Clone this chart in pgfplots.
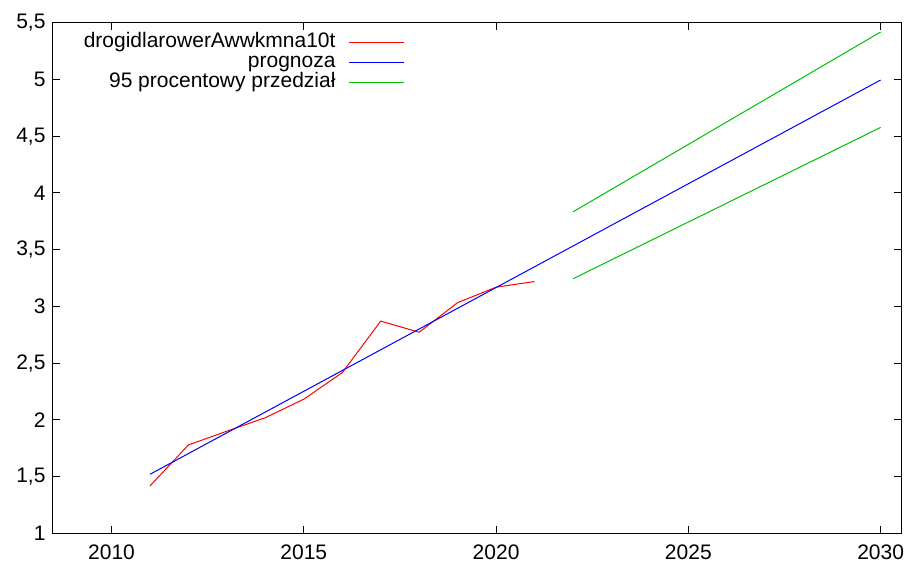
\documentclass[border=0pt]{standalone}
\usepackage{fontspec}
\setmainfont{Liberation Sans}
\usepackage{pgfplots}
\pgfplotsset{compat=1.18}
\definecolor{gpred}{RGB}{255,0,0}
\definecolor{gpblue}{RGB}{0,0,255}
\definecolor{gpgreen}{RGB}{0,192,0}
\begin{document}
\begin{tikzpicture}
\path[use as bounding box] (-52.7pt,-30.7pt) rectangle (856.3pt,533.3pt);
\begin{axis}[
  scale only axis,
  width=848.3pt, height=510.6pt,
  xmin=2008.47, xmax=2030.53,
  ymin=1, ymax=5.5,
  xtick={2010,2015,2020,2025,2030},
  ytick={1,1.5,2,2.5,3,3.5,4,4.5,5,5.5},
  tick align=inside,
  major tick length=7pt,
  tick style={black, line width=0.9pt},
  axis line style={black, line width=1pt},
  /pgf/number format/assume math mode=true,
  ticklabel style={font=\fontsize{21}{25}\selectfont},
  xticklabel style={/pgf/number format/1000 sep={}, yshift=-8pt},
  yticklabel style={/pgf/number format/fixed, /pgf/number format/use comma, /pgf/number format/precision=1, /pgf/number format/1000 sep={}, xshift=-3.7pt},
  legend style={draw=none, fill=none, at={(0.415,0.982)}, anchor=north east,
    inner sep=0pt, row sep=0pt, column sep=13pt,
    nodes={inner sep=0pt, text height=15pt, text depth=5pt},
    font=\fontsize{21}{25}\selectfont},
  legend cell align=right,
  legend plot pos=right,
  legend image code/.code={\draw[#1] (0pt,0pt) -- (55pt,0pt);},
]
\addplot[gpred, line width=1pt] coordinates {
(2011,1.417) (2012,1.779) (2013,1.90) (2014,2.019) (2015,2.182) (2016,2.416)
(2017,2.870) (2018,2.772) (2019,3.033) (2020,3.169) (2021,3.219)};
\addlegendentry{drogidlarowerAwwkmna10t}
\addplot[gpblue, line width=1pt] coordinates {(2011,1.52) (2030,4.995)};
\addlegendentry{prognoza}
\addplot[gpgreen, line width=1pt] coordinates {(2022,3.833) (2030,5.418)};
\addlegendentry{95 procentowy przedział}
\addplot[gpgreen, line width=1pt, forget plot] coordinates {(2022,3.243) (2030,4.577)};
\end{axis}
\end{tikzpicture}
\end{document}
